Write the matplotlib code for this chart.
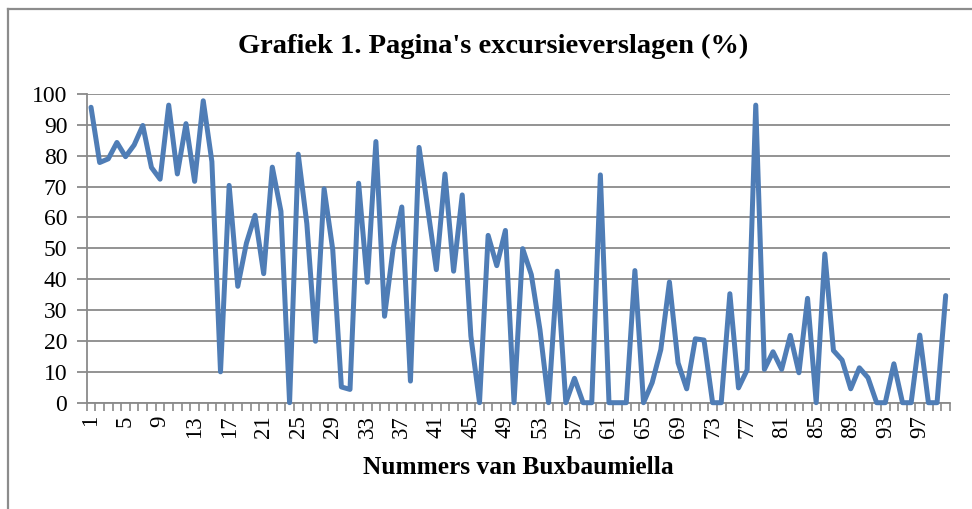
import matplotlib
matplotlib.use("Agg")
import matplotlib.pyplot as plt
from matplotlib.lines import Line2D

nummers = list(range(1, 101))
percentages = [
    95.7, 77.8, 79.0, 84.3, 79.7, 83.5, 89.8, 76.2, 72.4, 96.4,
    74.1, 90.4, 71.7, 97.8, 78.1, 10.0, 70.4, 37.7, 51.7, 60.7,
    41.8, 76.3, 62.0, 0.0, 80.5, 58.0, 19.9, 69.3, 49.6, 5.1,
    4.3, 71.1, 39.0, 84.6, 28.0, 50.0, 63.4, 7.0, 82.7, 63.0,
    43.1, 74.1, 42.6, 67.3, 21.6, 0.0, 54.2, 44.4, 55.8, 0.0,
    49.9, 41.5, 23.7, 0.0, 42.6, 0.0, 7.9, 0.0, 0.0, 73.8,
    0.0, 0.0, 0.0, 42.8, 0.0, 6.5, 17.2, 39.1, 12.9, 4.5,
    20.7, 20.3, 0.0, 0.0, 35.3, 4.8, 10.6, 96.4, 10.8, 16.5,
    10.8, 21.8, 9.7, 33.8, 0.0, 48.2, 16.9, 13.8, 4.5, 11.3,
    8.1, 0.0, 0.0, 12.6, 0.0, 0.0, 21.9, 0.0, 0.0, 34.7,
]
tick_labels = [str(n) for n in range(1, 101, 4)]
yticks = list(range(0, 101, 10))

title = "Grafiek 1. Pagina's excursieverslagen (%)"
xlabel = "Nummers van Buxbaumiella"

W, H = 972, 509
fig = plt.figure(figsize=(W / 100, H / 100), dpi=100)
serif = ["Liberation Serif", "DejaVu Serif"]

# outer chart border (top and left visible)
fig.add_artist(Line2D([7.5 / W, 7.5 / W], [0, 1 - 9 / H], transform=fig.transFigure,
                      color="#8c8c8c", lw=1.6))
fig.add_artist(Line2D([7.5 / W, 1], [1 - 9 / H, 1 - 9 / H], transform=fig.transFigure,
                      color="#8c8c8c", lw=1.6))

ax = fig.add_axes([86.7 / W, (H - 402.7) / H, (950 - 86.7) / W, (402.7 - 94) / H])
ax.plot(nummers, percentages, color="#4F7DB6", lw=3.6, solid_joinstyle="round",
        solid_capstyle="round", zorder=3, clip_on=False)

ax.set_xlim(0.5, 100.5)
ax.set_ylim(0, 100)
ax.set_yticks(yticks)
ax.set_yticklabels([str(v) for v in yticks], fontfamily=serif, fontsize=17)
ax.yaxis.grid(True, color="#8a8a8a", lw=1.3)
ax.set_axisbelow(True)

ax.set_xticks(list(range(1, 101, 4)))
ax.set_xticklabels(tick_labels, rotation=90, fontfamily=serif, fontsize=16.5)
ax.set_xticks([n + 0.5 for n in range(0, 101)], minor=True)
ax.tick_params(axis="x", which="major", length=0, pad=9)
ax.tick_params(axis="x", which="minor", length=5.5, color="#8a8a8a", width=1.2, direction="out")
ax.tick_params(axis="y", which="major", length=7, color="#8a8a8a", width=1.3, pad=7)

for s in ["top", "right"]:
    ax.spines[s].set_visible(False)
for s in ["left", "bottom"]:
    ax.spines[s].set_color("#8a8a8a")
    ax.spines[s].set_linewidth(1.3)

fig.text(493 / W, 1 - 46 / H, title, ha="center", va="center", fontfamily=serif,
         fontweight="bold", fontsize=20.5)
fig.text(518 / W, 1 - 467 / H, xlabel, ha="center", va="center", fontfamily=serif,
         fontweight="bold", fontsize=18.3)

fig.savefig("out.png", dpi=100)
